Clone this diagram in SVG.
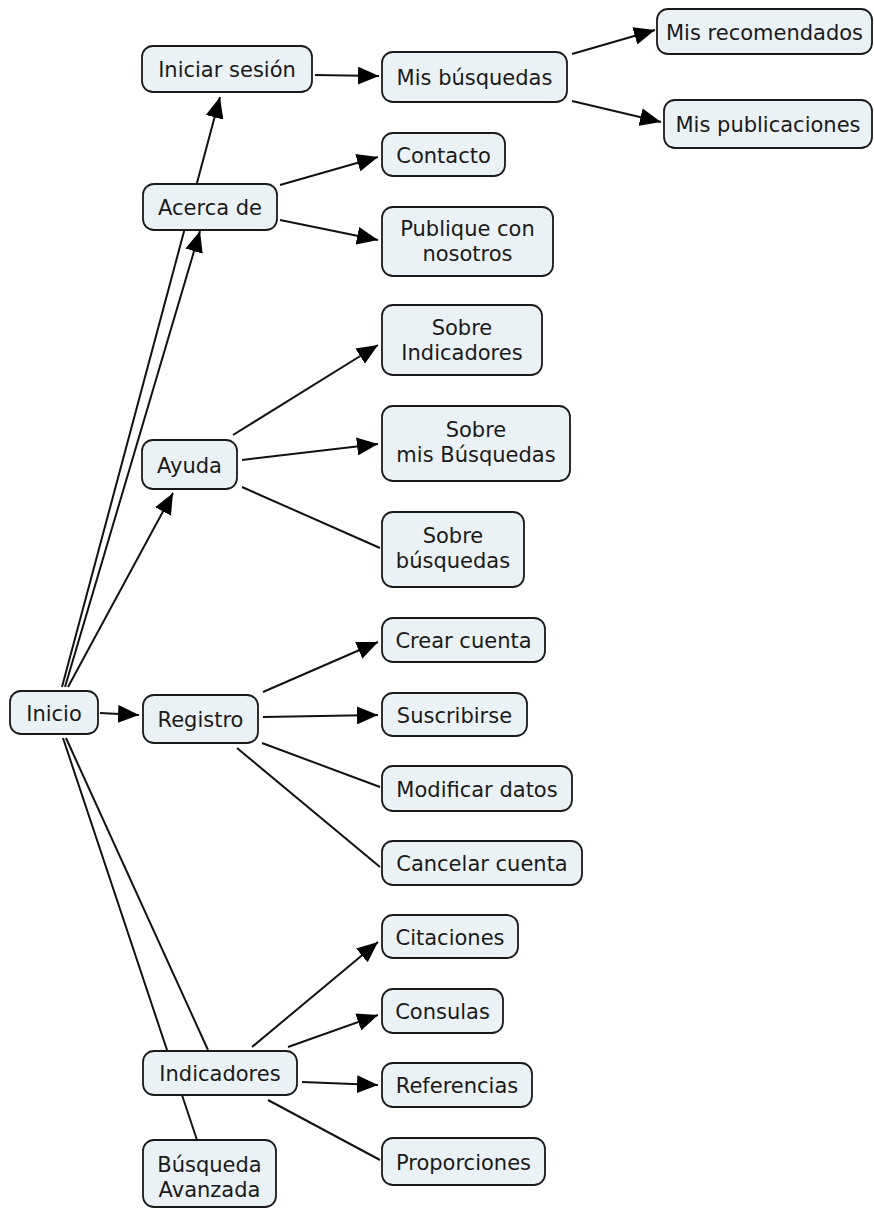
<svg xmlns="http://www.w3.org/2000/svg" width="874" height="1208" viewBox="0 0 874 1208">
<style>
.n rect{fill:#ebf2f5;stroke:#1a1a1a;stroke-width:1.8}
.n text{font-family:"DejaVu Sans",Verdana,sans-serif;font-size:21px;fill:#1a1a1a;text-anchor:middle}
.c line{stroke:#111;stroke-width:2;fill:none}
.c .a{marker-end:url(#arr)}
</style>
<defs>
<marker id="arr" markerUnits="userSpaceOnUse" markerWidth="21" markerHeight="18" refX="21" refY="9" orient="auto" viewBox="0 0 21 18">
<path d="M0,0 L21,9 L0,18 z" fill="#000"/>
</marker>
</defs>
<rect width="874" height="1208" fill="#fff"/>
<g id="connectors" class="c">
<line class="a" x1="62" y1="687" x2="220" y2="97"/>
<line class="a" x1="65" y1="687" x2="200" y2="231"/>
<line class="a" x1="68" y1="687" x2="173" y2="493"/>
<line class="a" x1="100" y1="713" x2="139" y2="715"/>
<line x1="63" y1="738" x2="197" y2="1140"/>
<line x1="66" y1="738" x2="208" y2="1050"/>
<line class="a" x1="280" y1="185" x2="378" y2="157"/>
<line class="a" x1="280" y1="220" x2="378" y2="240"/>
<line class="a" x1="315" y1="75" x2="379" y2="76"/>
<line class="a" x1="572" y1="54" x2="655" y2="30"/>
<line class="a" x1="572" y1="101" x2="661" y2="122"/>
<line class="a" x1="233" y1="435" x2="378" y2="345"/>
<line class="a" x1="242" y1="460" x2="378" y2="444"/>
<line x1="242" y1="487" x2="380" y2="548"/>
<line class="a" x1="263" y1="692" x2="378" y2="642"/>
<line class="a" x1="263" y1="717" x2="378" y2="715"/>
<line x1="262" y1="743" x2="380" y2="787"/>
<line x1="237" y1="748" x2="380" y2="867"/>
<line class="a" x1="252" y1="1047" x2="378" y2="942"/>
<line class="a" x1="288" y1="1047" x2="378" y2="1015"/>
<line class="a" x1="302" y1="1082" x2="378" y2="1085"/>
<line x1="268" y1="1100" x2="380" y2="1160"/>
</g>
<g id="n-iniciar-sesion" class="n"><rect x="142" y="46" width="170" height="46" rx="11"/><text x="227" y="77">Iniciar sesión</text></g>
<g id="n-mis-busquedas" class="n"><rect x="382" y="52" width="185" height="50" rx="11"/><text x="474.5" y="85">Mis búsquedas</text></g>
<g id="n-mis-recomendados" class="n"><rect x="657" y="9" width="215" height="45" rx="11"/><text x="764.5" y="39.5">Mis recomendados</text></g>
<g id="n-mis-publicaciones" class="n"><rect x="664" y="100" width="208" height="48" rx="11"/><text x="768" y="132">Mis publicaciones</text></g>
<g id="n-contacto" class="n"><rect x="382" y="133" width="123" height="43" rx="11"/><text x="443.5" y="162.5">Contacto</text></g>
<g id="n-acerca-de" class="n"><rect x="143" y="184" width="134" height="46" rx="11"/><text x="210" y="215">Acerca de</text></g>
<g id="n-publique" class="n"><rect x="382" y="207" width="171" height="69" rx="11"/><text x="467.5" y="236">Publique con</text><text x="467.5" y="261">nosotros</text></g>
<g id="n-sobre-indicadores" class="n"><rect x="382" y="305" width="160" height="70" rx="11"/><text x="462" y="335">Sobre</text><text x="462" y="360">Indicadores</text></g>
<g id="n-ayuda" class="n"><rect x="142" y="440" width="95" height="49" rx="11"/><text x="189.5" y="472.5">Ayuda</text></g>
<g id="n-sobre-mis-busquedas" class="n"><rect x="382" y="406" width="188" height="75" rx="11"/><text x="476" y="437">Sobre</text><text x="476" y="462">mis Búsquedas</text></g>
<g id="n-sobre-busquedas" class="n"><rect x="382" y="512" width="142" height="75" rx="11"/><text x="453" y="543">Sobre</text><text x="453" y="568">búsquedas</text></g>
<g id="n-crear-cuenta" class="n"><rect x="382" y="618" width="163" height="44" rx="11"/><text x="463.5" y="648">Crear cuenta</text></g>
<g id="n-inicio" class="n"><rect x="10" y="691" width="88" height="43" rx="11"/><text x="54" y="720.5">Inicio</text></g>
<g id="n-registro" class="n"><rect x="143" y="695" width="115" height="48" rx="11"/><text x="200.5" y="727">Registro</text></g>
<g id="n-suscribirse" class="n"><rect x="382" y="693" width="145" height="43" rx="11"/><text x="454.5" y="722.5">Suscribirse</text></g>
<g id="n-modificar-datos" class="n"><rect x="382" y="766" width="190" height="45" rx="11"/><text x="477" y="796.5">Modificar datos</text></g>
<g id="n-cancelar-cuenta" class="n"><rect x="382" y="841" width="200" height="44" rx="11"/><text x="482" y="871">Cancelar cuenta</text></g>
<g id="n-citaciones" class="n"><rect x="382" y="915" width="136" height="43" rx="11"/><text x="450" y="944.5">Citaciones</text></g>
<g id="n-consulas" class="n"><rect x="382" y="989" width="121" height="44" rx="11"/><text x="442.5" y="1019">Consulas</text></g>
<g id="n-referencias" class="n"><rect x="382" y="1063" width="150" height="44" rx="11"/><text x="457" y="1093">Referencias</text></g>
<g id="n-proporciones" class="n"><rect x="382" y="1138" width="163" height="47" rx="11"/><text x="463.5" y="1169.5">Proporciones</text></g>
<g id="n-indicadores" class="n"><rect x="143" y="1051" width="154" height="44" rx="11"/><text x="220" y="1081">Indicadores</text></g>
<g id="n-busqueda-avanzada" class="n"><rect x="143" y="1140" width="133" height="67" rx="11"/><text x="209.5" y="1172">Búsqueda</text><text x="209.5" y="1197">Avanzada</text></g>
</svg>
